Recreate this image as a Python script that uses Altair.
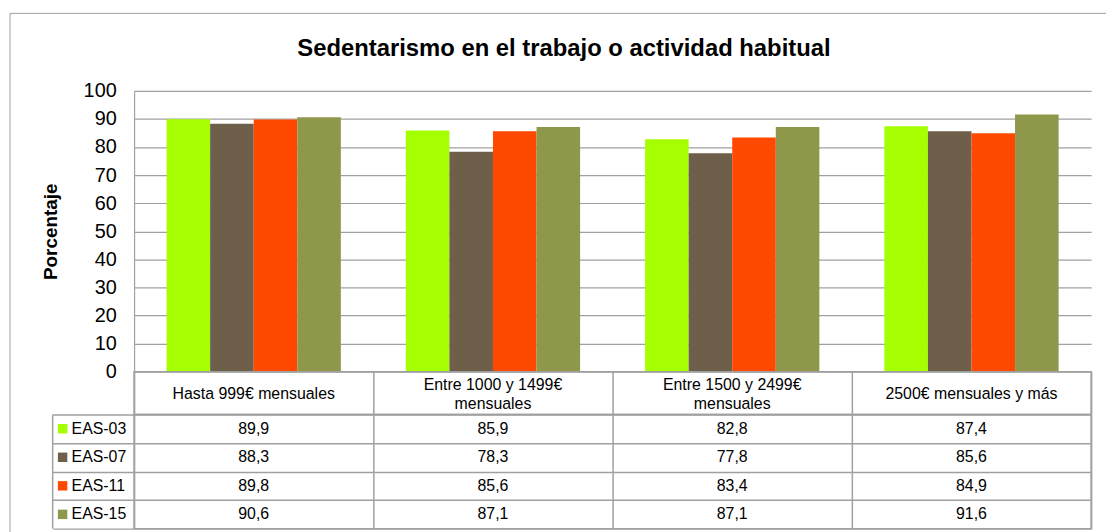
import altair as alt
import pandas as pd

categories = ["Hasta 999€ mensuales", "Entre 1000 y 1499€ mensuales",
              "Entre 1500 y 2499€ mensuales", "2500€ mensuales y más"]
header_labels = ["Hasta 999€ mensuales", "Entre 1000 y 1499€\nmensuales",
                 "Entre 1500 y 2499€\nmensuales", "2500€ mensuales y más"]
series = ["EAS-03", "EAS-07", "EAS-11", "EAS-15"]
eas03 = [89.9, 85.9, 82.8, 87.4]
eas07 = [88.3, 78.3, 77.8, 85.6]
eas11 = [89.8, 85.6, 83.4, 84.9]
eas15 = [90.6, 87.1, 87.1, 91.6]
colors = ["#a6ff00", "#6e5f4a", "#ff4800", "#8f974a"]
y_ticks = [0, 10, 20, 30, 40, 50, 60, 70, 80, 90, 100]
title_text = "Sedentarismo en el trabajo o actividad habitual"

FONT = "Liberation Sans"
GRID = "#a0a0a0"

rows = []
for s, vals in zip(series, [eas03, eas07, eas11, eas15]):
    for c, v in zip(categories, vals):
        rows.append({"categoria": c, "serie": s, "valor": v,
                     "etiqueta": f"{v:.1f}".replace(".", ",")})
df = pd.DataFrame(rows)
df_hdr = pd.DataFrame({"categoria": categories, "header": header_labels,
                       "lineas": [h.count("\n") + 1 for h in header_labels]})
df_ser = pd.DataFrame({"serie": series})
one = pd.DataFrame({"k": [0]})

W = 964
x_scale = alt.Scale(domain=categories, paddingInner=0, paddingOuter=0)
color_scale = alt.Scale(domain=series, range=colors)
row_scale = alt.Scale(domain=series, paddingInner=0, paddingOuter=0)

bars = alt.Chart(df).mark_bar().encode(
    x=alt.X("categoria:N", sort=categories, scale=x_scale, axis=None),
    xOffset=alt.XOffset("serie:N", sort=series,
                        scale=alt.Scale(domain=series, paddingInner=0, paddingOuter=0.746)),
    y=alt.Y("valor:Q", scale=alt.Scale(domain=[0, 100]),
            axis=alt.Axis(values=y_ticks, title="Porcentaje", titleFontSize=19,
                          titleFontWeight="bold", titleFont=FONT, titleColor="#000",
                          titlePadding=23, labelFontSize=20, labelFont=FONT,
                          labelColor="#000", labelPadding=18, ticks=False,
                          domainColor=GRID, domainWidth=1.2, gridColor=GRID,
                          gridWidth=1.2)),
    color=alt.Color("serie:N", sort=series, scale=color_scale, legend=None),
)

title_mark = alt.Chart(one).mark_text(
    text=title_text, fontSize=24, fontWeight="bold", font=FONT,
    align="center", baseline="alphabetic", color="#000"
).encode(x=alt.value(433), y=alt.value(-35))

top_rule = alt.Chart(one).mark_rule(color=GRID, strokeWidth=1).encode(
    x=alt.value(-125), x2=alt.value(979), y=alt.value(-78))
left_rule = alt.Chart(one).mark_rule(color=GRID, strokeWidth=1).encode(
    x=alt.value(-125), y=alt.value(-78), y2=alt.value(445))

top = alt.layer(top_rule, left_rule, bars, title_mark).properties(
    width=W, height=283, view=alt.ViewBackground(strokeWidth=0))

hdr_x = alt.X("categoria:N", sort=categories, scale=x_scale,
              axis=alt.Axis(title=None, labels=False, ticks=False, domain=False,
                            grid=True, tickBand="extent", gridColor=GRID, gridWidth=1.5))
hdr_base = alt.Chart(df_hdr).mark_text(
    fontSize=16, font=FONT, lineBreak="\n", lineHeight=19,
    baseline="middle", align="center", color="#000")
hdr_one = hdr_base.transform_filter("datum.lineas == 1").encode(
    x=hdr_x, y=alt.value(22.5), text="header:N")
hdr_two = hdr_base.transform_filter("datum.lineas == 2").encode(
    x=hdr_x, y=alt.value(13), text="header:N")
header = alt.layer(hdr_one, hdr_two).properties(
    width=W, height=43, view=alt.ViewBackground(stroke=GRID, strokeWidth=1.5))

cells = alt.Chart(df).mark_text(
    fontSize=16, font=FONT, baseline="middle", align="center", color="#000"
).encode(
    x=alt.X("categoria:N", sort=categories, scale=x_scale,
            axis=alt.Axis(title=None, labels=False, ticks=False, domain=False,
                          grid=True, tickBand="extent", gridColor=GRID, gridWidth=1.5)),
    y=alt.Y("serie:N", sort=series, scale=row_scale,
            axis=alt.Axis(title=None, labels=False, ticks=True, tickSize=82,
                          tickBand="extent", tickColor=GRID, tickWidth=1.5,
                          domain=False, grid=True, gridColor=GRID, gridWidth=1.5)),
    text="etiqueta:N",
)
swatches = alt.Chart(df_ser).mark_square(size=90, opacity=1).encode(
    x=alt.value(-72),
    y=alt.Y("serie:N", sort=series, scale=row_scale),
    color=alt.Color("serie:N", sort=series, scale=color_scale, legend=None),
)
row_labels = alt.Chart(df_ser).mark_text(
    fontSize=16, font=FONT, baseline="middle", align="left", color="#000"
).encode(
    x=alt.value(-63),
    y=alt.Y("serie:N", sort=series, scale=row_scale),
    text="serie:N",
)
table_left = alt.Chart(one).mark_rule(color=GRID, strokeWidth=1.5).encode(
    x=alt.value(-82), y=alt.value(0), y2=alt.value(115))

table = alt.layer(cells, swatches, row_labels, table_left).properties(
    width=W, height=115, view=alt.ViewBackground(stroke=GRID, strokeWidth=1.5))

chart = alt.vconcat(top, header, table, spacing=0, bounds="flush").properties(
    padding={"left": 1, "top": 2.5, "right": 0, "bottom": 0}
).configure(font=FONT)

chart.save("out.html", embed_options={"renderer": "svg", "actions": False})
